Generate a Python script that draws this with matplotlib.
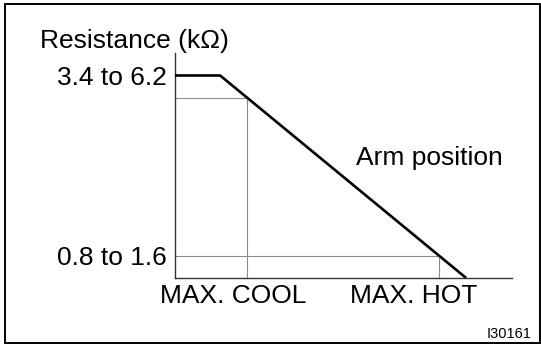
import matplotlib
matplotlib.use("Agg")
import matplotlib.pyplot as plt
from matplotlib.patches import Rectangle

plt.rcParams['font.family'] = ['Liberation Sans', 'DejaVu Sans']

# arm travel (0 = left end of axis, 1 = right end) vs relative resistance
curve_pos = [0.0, 0.134, 0.864]
curve_res = [0.90, 0.90, 0.0]

# check points: MAX. COOL and MAX. HOT
check_pos = [0.214, 0.783]
check_res = [0.80, 0.10]

ytick_res = [0.90, 0.10]
ytick_labels = ["3.4 to 6.2", "0.8 to 1.6"]

xlabel_pos = [0.172, 0.709]
xlabel_text = ["MAX. COOL", "MAX. HOT"]

W, H = 541, 345
fig = plt.figure(figsize=(W / 100, H / 100), dpi=100)
ax = fig.add_axes([175 / W, (H - 278) / H, 337 / W, 225 / H])
ax.set_xlim(0, 1)
ax.set_ylim(0, 1)

# guide lines
for px, ry in zip(check_pos, check_res):
    ax.plot([0, px], [ry, ry], color='#8c8c8c', lw=0.8, zorder=1)
    ax.plot([px, px], [0, ry], color='#8c8c8c', lw=0.8, zorder=1)

ax.plot(curve_pos, curve_res, color='black', lw=1.9, zorder=3,
        solid_capstyle='butt')

for s in ['top', 'right']:
    ax.spines[s].set_visible(False)
for s in ['left', 'bottom']:
    ax.spines[s].set_color('#333333')
    ax.spines[s].set_linewidth(1.0)

ax.set_xticks([])
ax.set_yticks(ytick_res)
ax.set_yticklabels(ytick_labels, fontsize=19)
ax.tick_params(axis='y', length=0, pad=6)

for xp, t in zip(xlabel_pos, xlabel_text):
    ax.text(xp, -0.11, t, transform=ax.get_xaxis_transform(),
            ha='center', va='baseline', fontsize=19)

fig.text(40 / W, (H - 48) / H, "Resistance (k\u03a9)", ha='left', va='baseline',
         fontsize=19)
fig.text(356 / W, (H - 165) / H, "Arm position", ha='left', va='baseline',
         fontsize=19)
fig.text(532 / W, (H - 338) / H, "I30161", ha='right', va='baseline',
         fontsize=10.5)

# outer frame
fig.patches.append(Rectangle((4.5 / W, 2.5 / H), 535 / W, 339 / H,
                             transform=fig.transFigure, fill=False,
                             edgecolor='black', lw=1.4))

fig.savefig("out.png", dpi=100)
